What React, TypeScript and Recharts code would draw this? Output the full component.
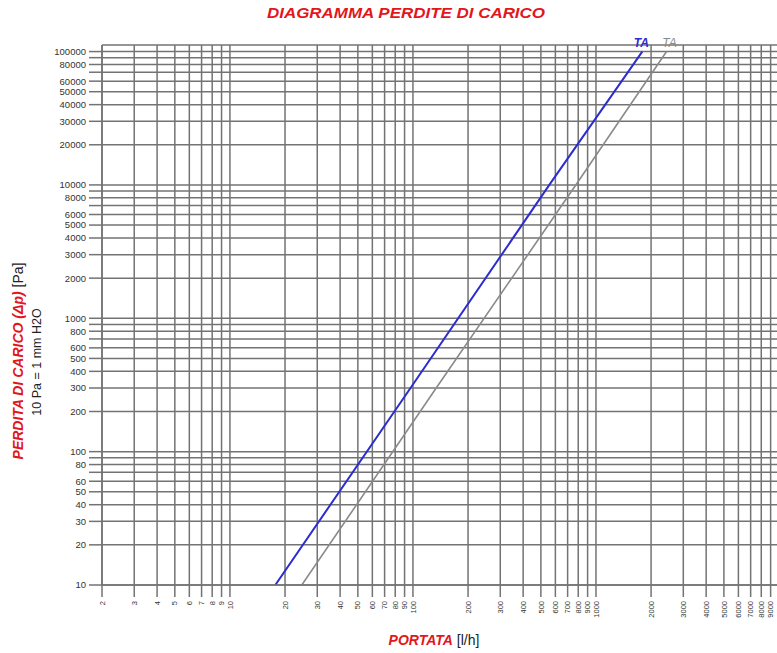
import React from "react";
import { LineChart, Line, XAxis, YAxis, CartesianGrid } from "recharts";

const FONT = "'Liberation Sans', Arial, Helvetica, sans-serif";
const RED = "#e3161b";
const GRID = "#737373";

// Flow rate ticks (l/h)
const flowTicks = [
  2, 3, 4, 5, 6, 7, 8, 9, 10,
  20, 30, 40, 50, 60, 70, 80, 90, 100,
  200, 300, 400, 500, 600, 700, 800, 900, 1000,
  2000, 3000, 4000, 5000, 6000, 7000, 8000, 9000,
];

// Pressure drop grid lines (Pa)
const pressureTicks = [
  10, 20, 30, 40, 50, 60, 70, 80, 90,
  100, 200, 300, 400, 500, 600, 700, 800, 900,
  1000, 2000, 3000, 4000, 5000, 6000, 7000, 8000, 9000,
  10000, 20000, 30000, 40000, 50000, 60000, 70000, 80000, 90000,
  100000,
];

// Pressure tick labels actually printed
const pressureLabels = [
  10, 20, 30, 40, 50, 60, 80, 100, 200, 300, 400, 500, 600, 800,
  1000, 2000, 3000, 4000, 5000, 6000, 8000, 10000, 20000, 30000,
  40000, 50000, 60000, 80000, 100000,
];

// Series: TA (blue) and TA (gray)
const blueTA = [
  { q: 17.7, dp: 10 },
  { q: 97, dp: 300 },
  { q: 556, dp: 10000 },
  { q: 1790, dp: 100000 },
];
const grayTA = [
  { q: 24.7, dp: 10 },
  { q: 134, dp: 300 },
  { q: 776, dp: 10000 },
  { q: 2430, dp: 100000 },
];

const seriesNames = ["TA", "TA"];

const XTick = (props: any) => {
  const { x, y, payload } = props;
  return (
    <text
      x={x}
      y={y}
      transform={`rotate(-90 ${x} ${y})`}
      textAnchor="end"
      dy="0.35em"
      fontSize={7.5}
      fontFamily={FONT}
      fill="#333"
    >
      {payload.value}
    </text>
  );
};

const endLabel = (name: string, color: string, bold: boolean, len: number, dx: number) => (props: any) => {
  const { x, y, index } = props;
  if (index !== len - 1) return null;
  return (
    <text
      x={x + dx}
      y={y - 5}
      textAnchor="middle"
      fontSize={12}
      fontFamily={FONT}
      fontStyle="italic"
      fontWeight={bold ? "bold" : "normal"}
      fill={color}
    >
      {name}
    </text>
  );
};

export default function App() {
  return (
    <div
      style={{
        position: "fixed",
        left: 0,
        top: 0,
        width: 777,
        height: 653,
        overflow: "hidden",
        background: "#fff",
      }}
    >
      <LineChart width={779} height={653} margin={{ top: 45, right: 0, bottom: 0, left: 0 }}>
        <CartesianGrid stroke={GRID} strokeWidth={1.5} />
        <XAxis
          type="number"
          dataKey="q"
          scale="log"
          domain={[2, 10000]}
          allowDataOverflow
          ticks={flowTicks}
          interval={0}
          height={68}
          tickSize={12}
          tickMargin={4}
          tick={<XTick />}
          axisLine={{ stroke: GRID, strokeWidth: 1.5 }}
          tickLine={{ stroke: GRID, strokeWidth: 1.5 }}
        />
        <YAxis
          type="number"
          dataKey="dp"
          scale="log"
          domain={[10, 112000]}
          allowDataOverflow
          ticks={pressureTicks}
          interval={0}
          width={102}
          tickSize={13}
          tickMargin={3}
          tickFormatter={(v: number) => (pressureLabels.includes(v) ? String(v) : "")}
          tick={{ fontSize: 9.5, fill: "#333", fontFamily: FONT }}
          axisLine={{ stroke: GRID, strokeWidth: 1.5 }}
          tickLine={{ stroke: GRID, strokeWidth: 1.5 }}
        />
        <Line
          data={grayTA}
          dataKey="dp"
          type="linear"
          stroke="#8a8a8a"
          strokeWidth={1.6}
          dot={false}
          isAnimationActive={false}
          label={endLabel(seriesNames[1], "#8a8a8a", false, grayTA.length, 3)}
        />
        <Line
          data={blueTA}
          dataKey="dp"
          type="linear"
          stroke="#2c2cd0"
          strokeWidth={2}
          dot={false}
          isAnimationActive={false}
          label={endLabel(seriesNames[0], "#2c2cd0", true, blueTA.length, -1)}
        />
      </LineChart>
      <svg
        width={777}
        height={653}
        style={{ position: "absolute", left: 0, top: 0, pointerEvents: "none" }}
      >
        <text
          x={406}
          y={18}
          textAnchor="middle"
          fontSize={14}
          fontWeight="bold"
          fontStyle="italic"
          fontFamily={FONT}
          fill={RED}
          textLength={278}
          lengthAdjust="spacingAndGlyphs"
        >
          DIAGRAMMA PERDITE DI CARICO
        </text>
        <text transform="translate(23,361) rotate(-90)" textAnchor="middle" fontSize={14} fontFamily={FONT}>
          <tspan fill={RED} fontWeight="bold" fontStyle="italic">PERDITA DI CARICO (Δp)</tspan>
          <tspan fill="#222"> [Pa]</tspan>
        </text>
        <text transform="translate(41,362) rotate(-90)" textAnchor="middle" fontSize={12.5} fontFamily={FONT} fill="#222">
          10 Pa = 1 mm H2O
        </text>
        <text x={434} y={645} textAnchor="middle" fontSize={14} fontFamily={FONT}>
          <tspan fill={RED} fontWeight="bold" fontStyle="italic">PORTATA</tspan>
          <tspan fill="#222"> [l/h]</tspan>
        </text>
      </svg>
    </div>
  );
}
